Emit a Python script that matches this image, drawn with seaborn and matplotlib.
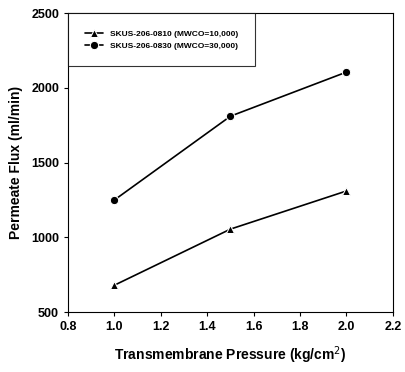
import matplotlib
matplotlib.use("Agg")
import matplotlib.pyplot as plt
import seaborn as sns
import pandas as pd

pressure = [1.0, 1.5, 2.0]
flux_0810 = [680, 1055, 1310]
flux_0830 = [1250, 1810, 2105]
labels = ["SKUS-206-0810 (MWCO=10,000)", "SKUS-206-0830 (MWCO=30,000)"]

sns.set_style("ticks")
plt.rcParams['font.family'] = ['Liberation Sans', 'DejaVu Sans']
plt.rcParams['text.color'] = 'black'
plt.rcParams['axes.labelcolor'] = 'black'
plt.rcParams['xtick.color'] = 'black'
plt.rcParams['ytick.color'] = 'black'

df = pd.DataFrame({
    "x": pressure * 2,
    "y": flux_0810 + flux_0830,
    "s": [labels[0]] * 3 + [labels[1]] * 3,
})

fig = plt.figure(figsize=(4.05, 3.72), dpi=100)
ax = fig.add_axes([0.168, 0.161, 0.802, 0.804])
sns.lineplot(data=df, x="x", y="y", hue="s", style="s",
             palette=["black", "black"], markers=["^", "o"], dashes=False,
             markersize=6, linewidth=1.2, ax=ax)
ax.set_xlim(0.8, 2.2)
ax.set_ylim(500, 2500)
ax.set_xticks([0.8, 1.0, 1.2, 1.4, 1.6, 1.8, 2.0, 2.2])
ax.set_yticks([500, 1000, 1500, 2000, 2500])
ax.set_xticklabels(["0.8", "1.0", "1.2", "1.4", "1.6", "1.8", "2.0", "2.2"], fontweight="bold", fontsize=9)
ax.set_yticklabels(["500", "1000", "1500", "2000", "2500"], fontweight="bold", fontsize=9)
ax.tick_params(length=3, width=0.8, color="black", labelcolor="black")
for sp in ax.spines.values():
    sp.set_color("black")
    sp.set_linewidth(0.8)
ax.set_xlabel("Transmembrane Pressure (kg/cm$^2$)", fontweight="bold", fontsize=10, labelpad=8, color="black")
ax.set_ylabel("Permeate Flux (ml/min)", fontweight="bold", fontsize=10, labelpad=6, color="black")
leg = ax.legend(title=None, loc="upper left", fontsize=6, frameon=True,
                fancybox=False, edgecolor="black", borderpad=2.0,
                borderaxespad=0.0, bbox_to_anchor=(0.0, 1.0), handlelength=2.2)
leg.get_frame().set_linewidth(0.8)
for t in leg.get_texts():
    t.set_fontweight("bold")
    t.set_color("black")
fig.savefig("out.png", dpi=100)
